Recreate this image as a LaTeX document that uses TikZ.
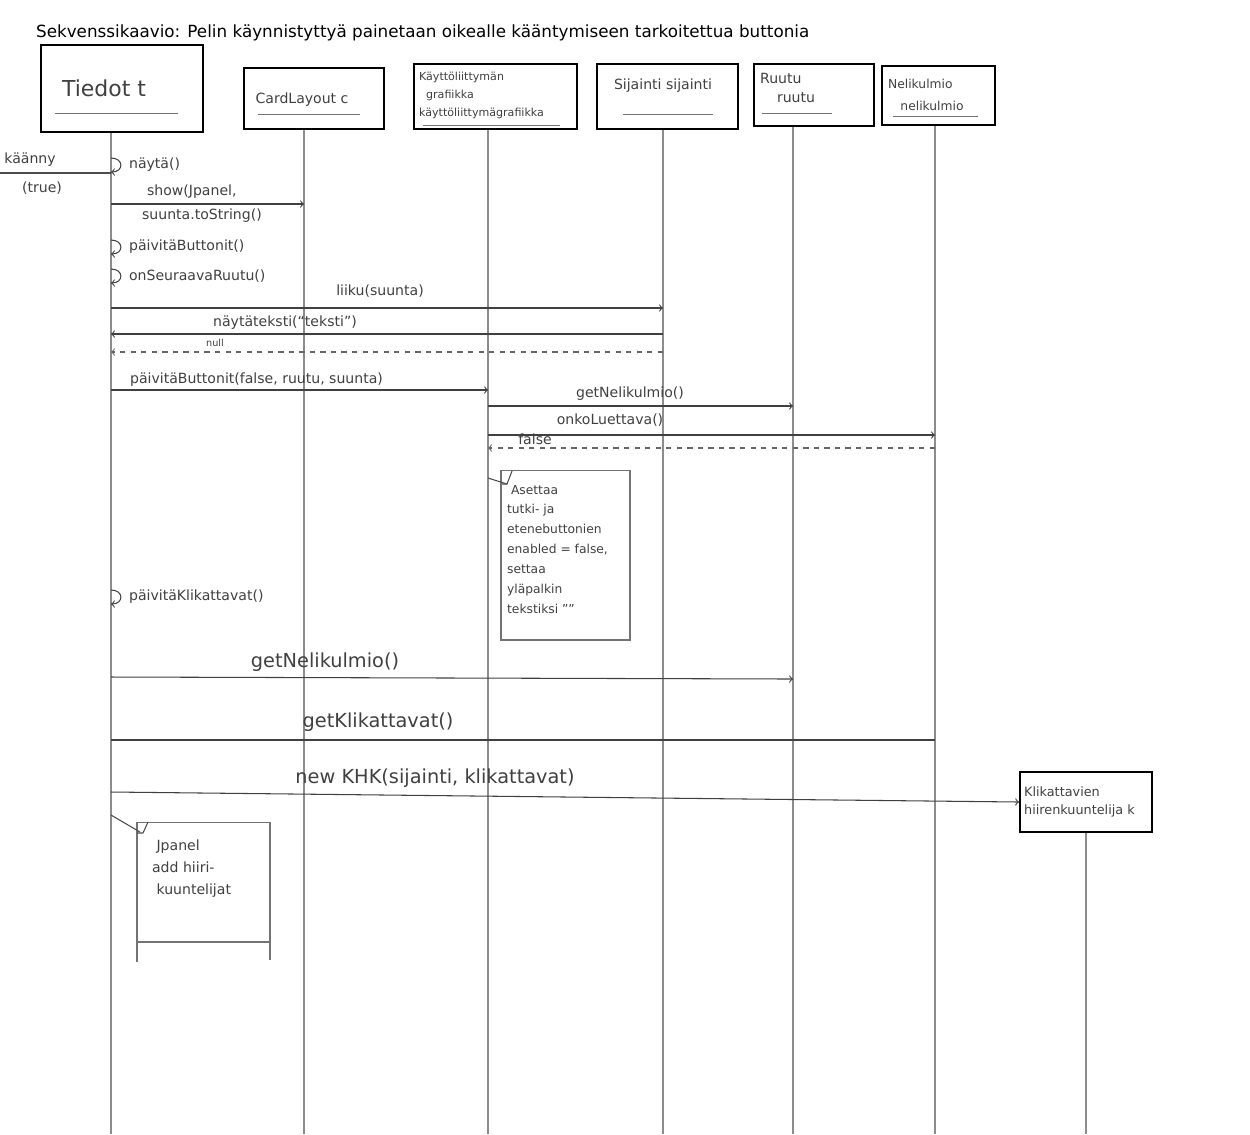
\documentclass[tikz,border=0pt]{standalone}
\usepackage{fontspec}
\setmainfont{DejaVu Sans}
\begin{document}
\begin{tikzpicture}[x=0.02cm, y=-0.02cm,
  every node/.style={font=\fontsize{8}{9.5}\selectfont, text=black!75, inner sep=1pt},
  head/.style={draw=black, line width=1.1pt, inner sep=0pt},
  life/.style={draw=black!45, line width=0.6pt},
  msg/.style={->, draw=black!75, line width=0.6pt},
  reply/.style={->, draw=black!60, dashed, line width=0.6pt},
  notebox/.style={draw=black!55, line width=0.6pt, inner sep=0pt},
  big/.style={font=\fontsize{11}{13}\selectfont}]
  \useasboundingbox (0,0) rectangle (1250,1134);

  % Title
  \node[anchor=west, text=black, font=\fontsize{9.55}{11}\selectfont] (title) at (34,33)
    {Sekvenssikaavio: Pelin käynnistyttyä painetaan oikealle kääntymiseen tarkoitettua buttonia};

  % Lifelines
  \foreach \n/\x/\y in {tied/111/132, card/304/129, kayt/488/129, sij/663/129,
                        ruutu/793/126, nel/935/125, klik/1086/832} {
    \coordinate (L\n) at (\x,\y);
    \draw[life] (L\n) -- (\x,1134);
  }

  % Object heads
  \node[head, minimum width=3.24cm, minimum height=1.74cm] (tied) at (122,88.5) {};
  \node[font=\fontsize{12.5}{14}\selectfont] (tiedT) at (104,88) {Tiedot t};
  \draw[black!55] (55,113) -- (178,113);

  \node[head, minimum width=2.8cm, minimum height=1.22cm] (card) at (314,98.5) {};
  \node (cardT) at (302,100) {CardLayout c};
  \draw[black!55] (258,114) -- (360,114);

  \node[head, minimum width=3.26cm, minimum height=1.3cm] (kayt) at (495.5,96.5) {};
  \node[anchor=north west, align=left, font=\fontsize{6.3}{10.3}\selectfont] (kaytT) at (417,70)
    {Käyttöliittymän\\\ \ grafiikka\\käyttöliittymägrafiikka};
  \draw[black!55] (423,125) -- (560,125);

  \node[head, minimum width=2.82cm, minimum height=1.3cm] (sij) at (667.5,96.5) {};
  \node (sijT) at (663,86) {Sijainti sijainti};
  \draw[black!55] (623,114) -- (713,114);

  \node[head, minimum width=2.4cm, minimum height=1.24cm] (ruutu) at (814,95) {};
  \node[anchor=west] (ruutuT) at (758,78) {Ruutu};
  \node (ruutuT2) at (796,98) {ruutu};
  \draw[black!55] (762,113) -- (832,113);

  \node[head, minimum width=2.26cm, minimum height=1.18cm] (nel) at (938.5,95.5) {};
  \node[anchor=west, font=\fontsize{7}{8}\selectfont] (nelT) at (886,84) {Nelikulmio};
  \node[font=\fontsize{7}{8}\selectfont] (nelT2) at (932,106) {nelikulmio};
  \draw[black!55] (893,116) -- (978,116);

  \node[head, minimum width=2.64cm, minimum height=1.2cm] (klik) at (1086,802) {};
  \node[anchor=west, align=left, font=\fontsize{7.3}{10}\selectfont] (klikT) at (1022,802)
    {Klikattavien\\hiirenkuuntelija k};

  % Incoming call
  \coordinate (start) at (0,173);
  \draw[draw=black!70, line width=0.6pt] (start) -- (Ltied |- 0,173);
  \node (kaanny) at (30,160) {käänny};
  \node (kaannyB) at (42,188) {(true)};

  % Self calls of Tiedot
  \foreach \y/\t in {165/näytä(), 247/päivitäButtonit(), 276/onSeuraavaRuutu(), 597/päivitäKlikattavat()} {
    \draw[msg] (Ltied |- 0,\y-7) .. controls +(13,0) and +(13,0) .. (Ltied |- 0,\y+7);
    \node[anchor=west] (self\y) at (127,\y) {\t};
  }

  % show
  \draw[msg] (Ltied |- 0,204) -- (Lcard |- 0,204);
  \node[anchor=west] (showA) at (145,192) {show(Jpanel,};
  \node[anchor=west] (showB) at (140,216) {suunta.toString()};

  % liiku
  \draw[msg] (Ltied |- 0,308) -- (Lsij |- 0,308);
  \node (liiku) at (380,291) {liiku(suunta)};
  \draw[msg] (Lsij |- 0,334) -- (Ltied |- 0,334);
  \node (nayta) at (285,323) {näytäteksti(“teksti”)};
  \draw[reply] (Lsij |- 0,352) -- (Ltied |- 0,352);
  \node[font=\fontsize{5.5}{6}\selectfont] (null) at (215,343) {null};

  % paivitaButtonit
  \draw[msg] (Ltied |- 0,390) -- (Lkayt |- 0,390);
  \node[anchor=west] (paiv) at (128,380) {päivitäButtonit(false, ruutu, suunta)};
  \draw[msg] (Lkayt |- 0,406) -- (Lruutu |- 0,406);
  \node (getN1) at (630,394) {getNelikulmio()};
  \draw[msg] (Lkayt |- 0,435) -- (Lnel |- 0,435);
  \node (onko) at (610,420) {onkoLuettava()};
  \draw[reply] (Lnel |- 0,448) -- (Lkayt |- 0,448);
  \node (false) at (535,439) {false};

  % Note 1
  \node[notebox, minimum width=2.58cm, minimum height=3.4cm] (note1) at (565.5,555) {};
  \draw[black!70, line width=0.6pt] (512,471) -- (507,484) -- (502,484);
  \draw[black!70, line width=0.6pt] (Lkayt |- 0,478) -- (507,484);
  \node[anchor=north west, align=left, font=\fontsize{7}{11.3}\selectfont] (note1T) at (505,483)
    {\ Asettaa\\tutki- ja\\etenebuttonien\\enabled = false,\\settaa\\yläpalkin\\tekstiksi ""};

  % Klikattavat
  \draw[msg] (Ltied |- 0,677) -- (Lruutu |- 0,679);
  \node[big] (getN2) at (325,662) {getNelikulmio()};
  \draw[draw=black!75, line width=0.6pt] (Ltied |- 0,740) -- (Lnel |- 0,740);
  \node[big] (getK) at (378,722) {getKlikattavat()};
  \draw[msg] (Ltied |- 0,792) -- (klik.west);
  \node[big] (newK) at (435,778) {new KHK(sijainti, klikattavat)};

  % Note 2
  \node[notebox, minimum width=2.66cm, minimum height=2.4cm] (note2) at (203.5,882) {};
  \draw[black!55, line width=0.6pt] (137,942) -- (137,962) (270,942) -- (270,960);
  \draw[black!70, line width=0.6pt] (Ltied |- 0,815) -- (140,832);
  \draw[black!70, line width=0.6pt] (148,822) -- (143,833) -- (137,833);
  \node[anchor=north west, align=left, font=\fontsize{8}{12.5}\selectfont] (note2T) at (150,838)
    {\ Jpanel\\add hiiri-\\\ kuuntelijat};
\end{tikzpicture}
\end{document}
